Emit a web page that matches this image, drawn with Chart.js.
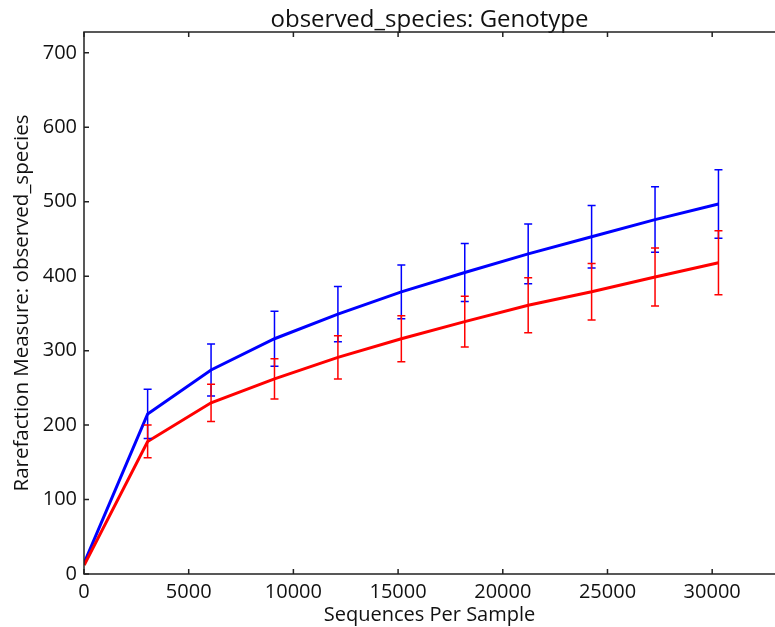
<!DOCTYPE html>
<html>
<head>
<meta charset="utf-8">
<script src="https://cdn.jsdelivr.net/npm/chart.js@4.4.1/dist/chart.umd.min.js"></script>
<style>
  html, body { margin: 0; padding: 0; background: #fff; }
  #wrap { width: 775px; height: 627px; }
</style>
</head>
<body>
<div id="wrap"><canvas id="chart" width="775" height="627"></canvas></div>
<script>
// rarefaction depths (sequences per sample)
const depths = [10, 3039, 6068, 9097, 12126, 15155, 18184, 21213, 24242, 27271, 30300];

// observed species, mean per genotype group
const blueMean = [15, 215, 274, 316, 349, 379, 405, 430, 453, 476, 497];
const blueErr  = [0, 33, 35, 37, 37, 36, 39, 40, 42, 44, 46];
const redMean  = [12, 178, 230, 262, 291, 316, 339, 361, 379, 399, 418];
const redErr   = [0, 22, 25, 27, 29, 31, 34, 37, 38, 39, 43];

const xTicks = [0, 5000, 10000, 15000, 20000, 25000, 30000];
const yTicks = [0, 100, 200, 300, 400, 500, 600, 700];

const BLUE = "#0000ff";
const RED = "#ff0000";
const AXIS = "#222222";
const FONT = "'Open Sans', 'DejaVu Sans', sans-serif";

function toPoints(ys) {
    return depths.map((d, i) => ({ x: d, y: ys[i] }));
}

// error bars + matplotlib style frame with inward ticks
const errorBarPlugin = {
    id: "errorBars",
    afterDatasetsDraw(chart) {
        const ctx = chart.ctx;
        const xs = chart.scales.x;
        const ys = chart.scales.y;
        const groups = [
            { mean: blueMean, err: blueErr, color: BLUE },
            { mean: redMean, err: redErr, color: RED }
        ];
        ctx.save();
        ctx.lineWidth = 1.5;
        groups.forEach(g => {
            ctx.strokeStyle = g.color;
            depths.forEach((d, i) => {
                if (!g.err[i]) return;
                const px = xs.getPixelForValue(d);
                const top = ys.getPixelForValue(g.mean[i] + g.err[i]);
                const bot = ys.getPixelForValue(g.mean[i] - g.err[i]);
                ctx.beginPath();
                ctx.moveTo(px, top); ctx.lineTo(px, bot);
                ctx.moveTo(px - 4, top); ctx.lineTo(px + 4, top);
                ctx.moveTo(px - 4, bot); ctx.lineTo(px + 4, bot);
                ctx.stroke();
            });
        });
        ctx.restore();
    },
    afterDraw(chart) {
        const ctx = chart.ctx;
        const a = chart.chartArea;
        const xs = chart.scales.x;
        const ys = chart.scales.y;
        ctx.save();
        ctx.strokeStyle = AXIS;
        ctx.lineWidth = 1.5;
        ctx.beginPath();
        ctx.moveTo(a.right + 5, a.top); ctx.lineTo(a.left, a.top);
        ctx.lineTo(a.left, a.bottom); ctx.lineTo(a.right + 5, a.bottom);
        ctx.stroke();
        ctx.beginPath();
        xTicks.forEach(v => {
            const px = xs.getPixelForValue(v);
            ctx.moveTo(px, a.bottom); ctx.lineTo(px, a.bottom - 5);
            ctx.moveTo(px, a.top); ctx.lineTo(px, a.top + 5);
        });
        yTicks.forEach(v => {
            const py = ys.getPixelForValue(v);
            ctx.moveTo(a.left, py); ctx.lineTo(a.left + 5, py);
        });
        ctx.stroke();
        ctx.restore();
    }
};

new Chart(document.getElementById("chart"), {
    type: "scatter",
    data: {
        datasets: [
            {
                label: "Genotype A",
                data: toPoints(redMean),
                showLine: true,
                borderColor: RED,
                borderWidth: 3,
                pointRadius: 0,
                tension: 0
            },
            {
                label: "Genotype B",
                data: toPoints(blueMean),
                showLine: true,
                borderColor: BLUE,
                borderWidth: 3,
                pointRadius: 0,
                tension: 0
            }
        ]
    },
    options: {
        responsive: false,
        animation: false,
        layout: { padding: { left: 0, right: 0, top: 0, bottom: 0 } },
        plugins: {
            legend: { display: false },
            tooltip: { enabled: false },
            title: {
                display: true,
                text: "observed_species: Genotype",
                fullSize: false,
                color: "#111",
                font: { family: FONT, size: 24, weight: "normal", lineHeight: 1 },
                padding: { top: 8, bottom: 0 }
            }
        },
        scales: {
            x: {
                type: "linear",
                min: 0,
                max: 33000,
                afterFit: s => { s.height = 53; },
                afterBuildTicks: s => { s.ticks = xTicks.map(v => ({ value: v })); },
                grid: { display: false, drawTicks: false },
                border: { display: false },
                ticks: {
                    color: "#111",
                    padding: 6,
                    maxRotation: 0,
                    font: { family: FONT, size: 20 },
                    callback: v => String(v)
                },
                title: {
                    display: true,
                    text: "Sequences Per Sample",
                    color: "#111",
                    font: { family: FONT, size: 20 },
                    padding: { top: 0, bottom: 0 }
                }
            },
            y: {
                type: "linear",
                min: 0,
                max: 728,
                afterFit: s => { s.width = 84; },
                afterBuildTicks: s => { s.ticks = yTicks.map(v => ({ value: v })); },
                grid: { display: false, drawTicks: false },
                border: { display: false },
                ticks: {
                    color: "#111",
                    padding: 7,
                    font: { family: FONT, size: 20 },
                    callback: v => String(v)
                },
                title: {
                    display: true,
                    text: "Rarefaction Measure: observed_species",
                    color: "#111",
                    font: { family: FONT, size: 20.5 },
                    padding: { top: 10, bottom: 0 }
                }
            }
        }
    },
    plugins: [errorBarPlugin]
});
</script>
</body>
</html>
